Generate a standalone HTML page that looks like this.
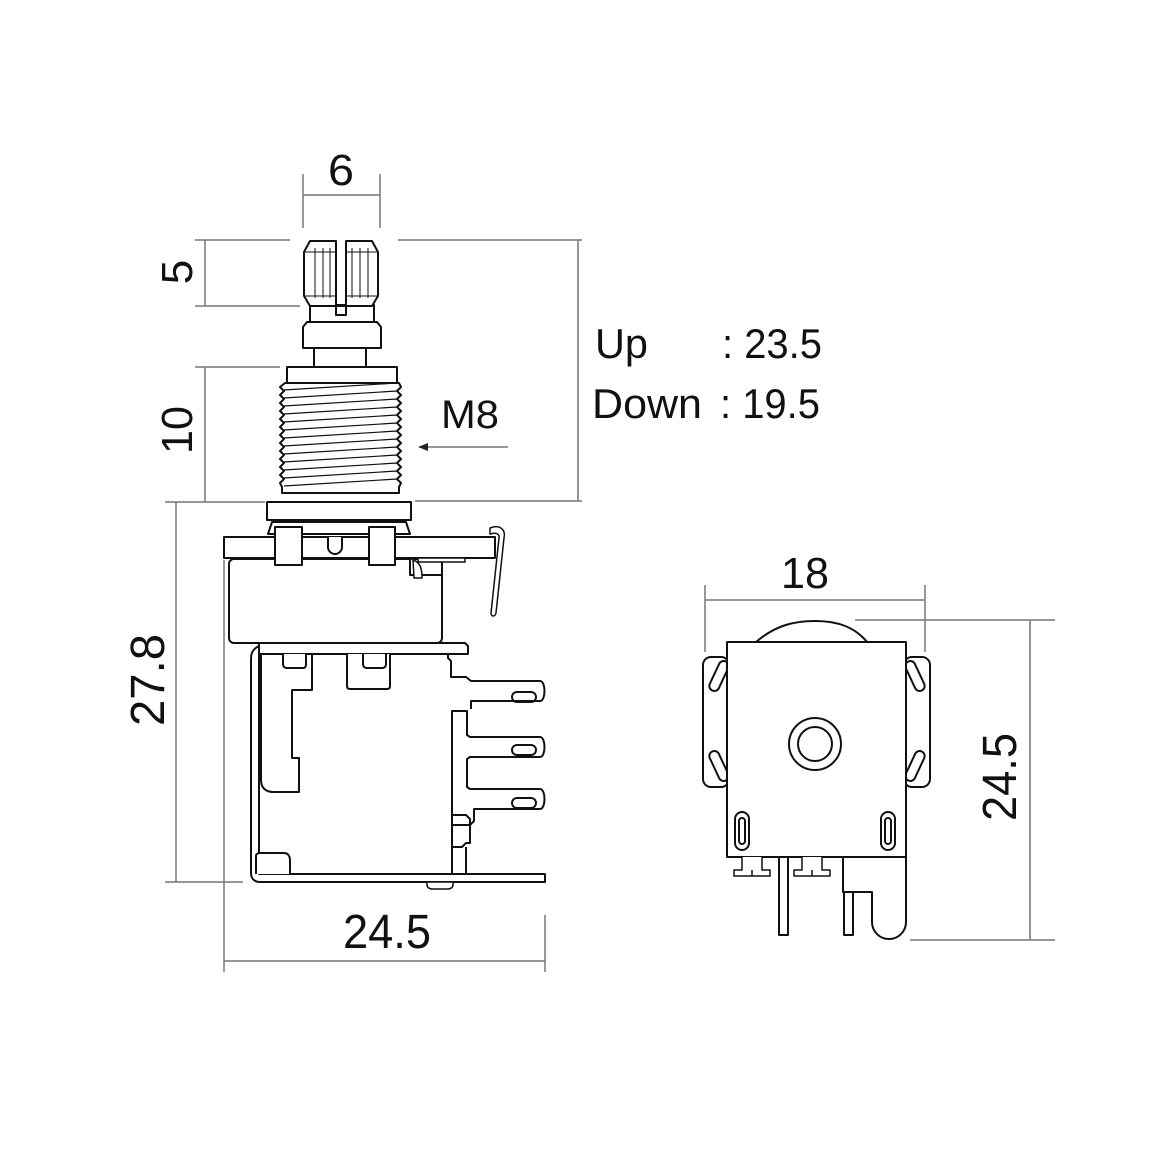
<!DOCTYPE html>
<html><head><meta charset="utf-8"><style>html,body{margin:0;padding:0;background:#fff}svg{display:block}</style></head>
<body>
<svg width="1160" height="1160" viewBox="0 0 1160 1160" xmlns="http://www.w3.org/2000/svg" font-family="Liberation Sans, sans-serif">
<g stroke="#777" stroke-width="1.5" fill="none">
<line x1="303" y1="174" x2="303" y2="228"/><line x1="380" y1="174" x2="380" y2="228"/><line x1="303" y1="195" x2="380" y2="195"/>
<line x1="195" y1="240" x2="290" y2="240"/><line x1="195" y1="306" x2="300" y2="306"/><line x1="205" y1="240" x2="205" y2="306"/>
<line x1="195" y1="367" x2="280" y2="367"/><line x1="205" y1="367" x2="205" y2="502"/>
<line x1="165" y1="502" x2="265" y2="502"/>
<line x1="398" y1="240" x2="582" y2="240"/><line x1="415" y1="501" x2="582" y2="501"/><line x1="578" y1="240" x2="578" y2="501"/>
<line x1="176" y1="502" x2="176" y2="882"/><line x1="165" y1="882" x2="243" y2="882"/>
<line x1="224" y1="560" x2="224" y2="972"/><line x1="545" y1="915" x2="545" y2="972"/><line x1="224" y1="961" x2="545" y2="961"/>
<line x1="705" y1="585" x2="705" y2="652"/><line x1="925" y1="585" x2="925" y2="652"/><line x1="705" y1="600" x2="925" y2="600"/>
<line x1="855" y1="620" x2="1055" y2="620"/><line x1="910" y1="940" x2="1055" y2="940"/><line x1="1030" y1="620" x2="1030" y2="940"/>
<line x1="420" y1="447" x2="508" y2="447"/>
</g>
<path d="M418 447 l10 -4 v8 z" fill="#222"/>
<g fill="#111">
<text x="341" y="185" font-size="44" text-anchor="middle" textLength="26" lengthAdjust="spacingAndGlyphs">6</text>
<text transform="translate(192,272) rotate(-90)" font-size="44" text-anchor="middle">5</text>
<text transform="translate(192,430) rotate(-90)" font-size="44" text-anchor="middle" textLength="48" lengthAdjust="spacingAndGlyphs">10</text>
<text transform="translate(164,680) rotate(-90)" font-size="48" text-anchor="middle" textLength="92" lengthAdjust="spacingAndGlyphs">27.8</text>
<text x="387" y="948" font-size="48" text-anchor="middle" textLength="88" lengthAdjust="spacingAndGlyphs">24.5</text>
<text x="805" y="588" font-size="44" text-anchor="middle" textLength="48" lengthAdjust="spacingAndGlyphs">18</text>
<text transform="translate(1016,777) rotate(-90)" font-size="48" text-anchor="middle" textLength="88" lengthAdjust="spacingAndGlyphs">24.5</text>
<text x="441" y="428" font-size="40" textLength="58" lengthAdjust="spacingAndGlyphs">M8</text>
<text x="595" y="358" font-size="42" textLength="53" lengthAdjust="spacingAndGlyphs">Up</text>
<text x="722" y="358" font-size="42" textLength="100" lengthAdjust="spacingAndGlyphs">: 23.5</text>
<text x="592" y="418" font-size="42" textLength="110" lengthAdjust="spacingAndGlyphs">Down</text>
<text x="720" y="418" font-size="42" textLength="100" lengthAdjust="spacingAndGlyphs">: 19.5</text>
</g>
<g stroke="#111" stroke-width="2" fill="#fff" stroke-linejoin="round">
<path d="M310 305 L310 327 L374 327 L374 305 Z"/>
<path d="M303 327 L307 322 L377 322 L381 327 L381 348 L303 348 Z"/>
<path d="M304 252 L310 241 L336 241 L336 315 L346 315 L346 241 L372 241 L378 252 L378 296 L372 306 L310 306 L304 296 Z" />
<g stroke-width="1" fill="none"><line x1="315" y1="248" x2="315" y2="298"/><line x1="323" y1="248" x2="323" y2="298"/><line x1="330" y1="248" x2="330" y2="298"/><line x1="352" y1="248" x2="352" y2="298"/><line x1="360" y1="248" x2="360" y2="298"/><line x1="368" y1="248" x2="368" y2="298"/><line x1="304" y1="252" x2="336" y2="252"/><line x1="346" y1="252" x2="378" y2="252"/><line x1="304" y1="296" x2="336" y2="296"/><line x1="346" y1="296" x2="378" y2="296"/></g>
<rect x="314" y="348" width="52" height="19"/>
<rect x="287" y="367" width="110" height="16"/>
<path d="M285 383 L399 383 L401 387 L397 391 L401 395 L397 399 L401 403 L397 407 L401 411 L397 415 L401 419 L397 423 L401 427 L397 431 L401 435 L397 439 L401 443 L397 447 L401 451 L397 455 L401 459 L397 463 L401 467 L397 471 L401 475 L397 479 L401 483 L399 487 L399 493 L282 493 L282 487 L280 483 L284 479 L280 475 L284 471 L280 467 L284 463 L280 459 L284 455 L280 451 L284 447 L280 443 L284 439 L280 435 L284 431 L280 427 L284 423 L280 419 L284 415 L280 411 L284 407 L280 403 L284 399 L280 395 L284 391 L280 387 Z"/>
<g stroke-width="1.2" fill="none"><line x1="284" y1="390" x2="397" y2="383"/><line x1="284" y1="398" x2="397" y2="391"/><line x1="284" y1="406" x2="397" y2="399"/><line x1="284" y1="414" x2="397" y2="407"/><line x1="284" y1="422" x2="397" y2="415"/><line x1="284" y1="430" x2="397" y2="423"/><line x1="284" y1="438" x2="397" y2="431"/><line x1="284" y1="446" x2="397" y2="439"/><line x1="284" y1="454" x2="397" y2="447"/><line x1="284" y1="462" x2="397" y2="455"/><line x1="284" y1="470" x2="397" y2="463"/><line x1="284" y1="478" x2="397" y2="471"/><line x1="284" y1="486" x2="397" y2="479"/></g>
<rect x="267" y="502" width="144" height="18"/>
<path d="M268 534 L272 522 L406 522 L410 534 Z"/>
<rect x="229" y="559" width="213" height="84" rx="5"/>
<path d="M410 559 L410 575 L442 575"/>
<path d="M413 560 c6 2 9 6 9 18 h-8 z" stroke-width="1.5"/>
<rect x="224" y="537" width="271" height="21"/>
<path d="M418 558 h47 v4 h-47 z" stroke-width="1.5"/>
<rect x="275" y="527" width="27" height="38"/>
<rect x="369" y="527" width="26" height="38"/>
<path d="M328 537 v10 a7 7 0 0 0 14 0 v-10" />
<path d="M490 528 c10 -4 16 2 14 10 l-8 75 c-1 4 -5 4 -5 0 l8 -75 c1 -4 -3 -6 -9 -4z" stroke-width="1.5"/>
<path d="M259 643 L465 643 L468 646 L468 654 L259 654 Z"/>
<path d="M259 646 C251 650 251 655 251 660 L251 873 C251 877 253 882 260 882 L545 882 L545 874 L259 874 Z" />
<path d="M261 654 L261 780 C261 788 266 792 273 792 L299 792 L299 758 L292 758 L292 690 L312 690 L312 654" fill="none"/>
<path d="M283 654 v10 c0 3 2 4 4 4 h16 c2 0 3 -1 3 -4 v-10" />
<path d="M347 654 v32 c0 2 1 3 3 3 h37 c2 0 3 -1 3 -3 v-32"/>
<path d="M363 654 v10 c0 3 2 4 4 4 h15 c2 0 4 -1 4 -4 v-10"/>
<path d="M448 654 v4 l3 3 v16 h15 l5 4 h69 c6 0 6 20 0 20 h-69 v8" fill="none"/>
<path d="M452 711 h15 v24 l3 2 h70 c6 0 6 20 0 20 h-70 l-3 2 v28 l3 2 h70 c6 0 6 20 0 20 h-66 v12 l-4 4 h-18 z" />
<path d="M452 815 h14 l4 4 v24 h-4 l-4 4 h-10 v27 h-0 z" fill="none"/>
<line x1="452" y1="847" x2="452" y2="874"/><line x1="466" y1="847" x2="466" y2="874"/>
<path d="M256 874 v-18 c0 -2 2 -3 4 -3 h24 c4 0 6 3 6 8 v13" />
<path d="M427 882 h26 v3 c0 2 -2 4 -5 4 h-16 c-3 0 -5 -2 -5 -4z" stroke-width="1.5"/>
<g fill="none"><rect x="512" y="692" width="24" height="10" rx="5"/><rect x="512" y="745" width="24" height="10" rx="5"/><rect x="512" y="798" width="24" height="10" rx="5"/></g>
<!-- right view -->
<path d="M755 643 C775 625 795 621 815 621 C838 621 855 627 868 643"/>
<rect x="703" y="657" width="26" height="130" rx="8"/>
<rect x="904" y="657" width="26" height="130" rx="8"/>
<rect x="714" y="660" width="10" height="32" rx="5" transform="rotate(25 719 676)"/>
<rect x="714" y="750" width="10" height="32" rx="5" transform="rotate(-25 719 766)"/>
<rect x="910" y="660" width="10" height="32" rx="5" transform="rotate(-25 915 676)"/>
<rect x="910" y="750" width="10" height="32" rx="5" transform="rotate(25 915 766)"/>
<rect x="779" y="855" width="9" height="80"/>
<path d="M843 855 L843 892 L872 892 L872 922 A17 17 0 0 0 906 922 L906 855"/>
<rect x="844" y="892" width="9" height="43"/>
<rect x="727" y="642" width="179" height="215"/>
<circle cx="815" cy="744" r="26" fill="none"/><circle cx="815" cy="744" r="17" fill="none"/>
<rect x="735" y="812" width="14" height="38" rx="7" fill="none"/><rect x="739" y="818" width="6" height="26" rx="3" fill="none"/>
<rect x="881" y="812" width="14" height="38" rx="7" fill="none"/><rect x="885" y="818" width="6" height="26" rx="3" fill="none"/>
<g stroke-width="1.5"><path d="M742 857 v13 h-8 v6 h36 v-6 h-8 v-13"/><line x1="752" y1="870" x2="752" y2="876"/><path d="M802 857 v13 h-8 v6 h36 v-6 h-8 v-13"/><line x1="812" y1="870" x2="812" y2="876"/></g>
</g>
</svg>
</body></html>
